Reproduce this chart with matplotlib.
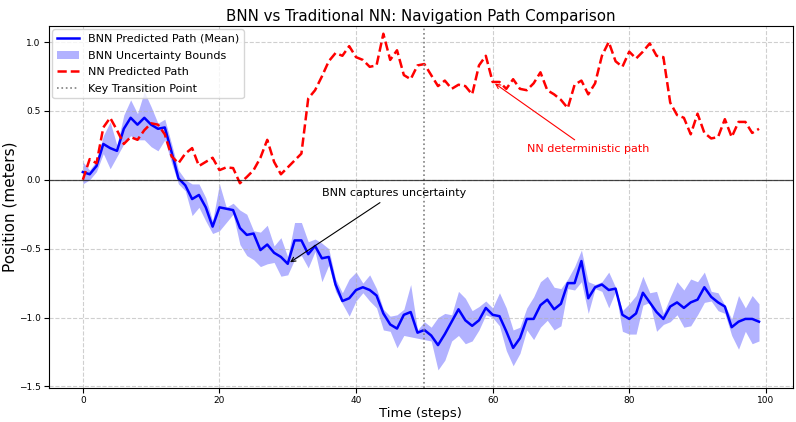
import numpy as np
import matplotlib
matplotlib.use('Agg')
import matplotlib.pyplot as plt

# time axis
steps = np.arange(100)

# BNN mean path
bnn_mean = [0.056, 0.04, 0.10, 0.26, 0.23, 0.21, 0.37, 0.45, 0.40, 0.45,
            0.40, 0.37, 0.38, 0.20, 0.01, -0.04, -0.14, -0.11, -0.20, -0.34,
            -0.20, -0.21, -0.22, -0.35, -0.40, -0.39, -0.51, -0.47, -0.53, -0.56,
            -0.61, -0.44, -0.44, -0.54, -0.48, -0.57, -0.56, -0.76, -0.88, -0.86,
            -0.80, -0.78, -0.80, -0.84, -0.97, -1.05, -1.08, -0.98, -0.96, -1.11,
            -1.09, -1.13, -1.20, -1.12, -1.03, -0.94, -1.02, -1.06, -1.02, -0.93,
            -0.98, -0.99, -1.10, -1.22, -1.15, -1.01, -1.01, -0.91, -0.87, -0.94,
            -0.90, -0.75, -0.75, -0.59, -0.86, -0.78, -0.76, -0.80, -0.79, -0.98,
            -1.01, -0.97, -0.82, -0.89, -0.96, -1.01, -0.92, -0.89, -0.93, -0.89,
            -0.87, -0.78, -0.85, -0.89, -0.92, -1.07, -1.03, -1.01, -1.01, -1.03]

# BNN uncertainty bounds
bnn_upper = [0.13, 0.07, 0.14, 0.32, 0.42, 0.25, 0.47, 0.58, 0.48, 0.64,
             0.53, 0.41, 0.44, 0.26, 0.07, 0.00, -0.03, -0.03, -0.13, -0.30,
             -0.03, -0.20, -0.17, -0.22, -0.25, -0.37, -0.38, -0.33, -0.48, -0.42,
             -0.56, -0.31, -0.31, -0.45, -0.43, -0.46, -0.50, -0.72, -0.82, -0.72,
             -0.67, -0.75, -0.69, -0.79, -0.94, -0.99, -0.98, -0.94, -0.76, -1.09,
             -1.03, -1.07, -1.00, -0.97, -0.98, -0.81, -0.86, -0.95, -0.92, -0.88,
             -0.93, -0.82, -0.93, -1.09, -1.07, -0.93, -0.85, -0.74, -0.70, -0.78,
             -0.79, -0.72, -0.63, -0.51, -0.74, -0.76, -0.74, -0.67, -0.78, -0.95,
             -0.90, -0.84, -0.70, -0.82, -0.81, -0.97, -0.85, -0.74, -0.80, -0.72,
             -0.74, -0.67, -0.81, -0.82, -0.91, -1.01, -0.84, -0.93, -0.84, -0.90]
bnn_lower = [-0.03, 0.00, 0.06, 0.19, 0.08, 0.17, 0.26, 0.32, 0.29, 0.29,
             0.24, 0.21, 0.29, 0.12, -0.03, -0.08, -0.26, -0.20, -0.30, -0.39,
             -0.37, -0.31, -0.25, -0.47, -0.55, -0.58, -0.63, -0.61, -0.60, -0.70,
             -0.69, -0.58, -0.55, -0.64, -0.52, -0.74, -0.62, -0.81, -0.90, -0.99,
             -0.88, -0.82, -0.88, -0.93, -1.09, -1.10, -1.22, -1.13, -1.14, -1.15,
             -1.16, -1.17, -1.38, -1.31, -1.17, -1.13, -1.19, -1.17, -1.09, -0.98,
             -1.00, -1.06, -1.24, -1.35, -1.26, -1.09, -1.16, -1.07, -1.02, -1.09,
             -1.06, -0.79, -0.80, -0.74, -0.97, -0.79, -0.81, -0.93, -0.81, -1.10,
             -1.12, -1.12, -0.91, -0.89, -1.10, -1.05, -1.03, -0.98, -1.07, -1.06,
             -0.98, -0.89, -0.88, -0.95, -0.97, -1.13, -1.23, -1.10, -1.19, -1.17]

# traditional NN path
nn_path = [0.00, 0.15, 0.12, 0.38, 0.45, 0.36, 0.26, 0.31, 0.29, 0.36,
           0.41, 0.40, 0.33, 0.17, 0.12, 0.19, 0.23, 0.10, 0.13, 0.16,
           0.07, 0.09, 0.085, -0.025, 0.02, 0.07, 0.16, 0.29, 0.13, 0.04,
           0.09, 0.14, 0.19, 0.59, 0.65, 0.75, 0.86, 0.92, 0.90, 0.97,
           0.89, 0.87, 0.82, 0.83, 1.06, 0.87, 0.94, 0.76, 0.73, 0.83,
           0.84, 0.76, 0.68, 0.72, 0.66, 0.69, 0.68, 0.62, 0.83, 0.90,
           0.71, 0.71, 0.66, 0.73, 0.66, 0.65, 0.70, 0.78, 0.65, 0.62,
           0.58, 0.52, 0.69, 0.72, 0.62, 0.70, 0.90, 1.00, 0.86, 0.82,
           0.93, 0.88, 0.93, 0.99, 0.90, 0.89, 0.56, 0.47, 0.45, 0.33,
           0.48, 0.34, 0.30, 0.31, 0.44, 0.31, 0.42, 0.42, 0.34, 0.37]

transition_step = 50

fig = plt.figure(figsize=(7.96, 4.22), dpi=100)
ax = fig.add_axes([0.0616, 0.081, 0.9344, 0.857])

ax.plot(steps, bnn_mean, color='blue', linewidth=1.8, label='BNN Predicted Path (Mean)')
ax.fill_between(steps, bnn_lower, bnn_upper, color='blue', alpha=0.3, linewidth=0,
                label='BNN Uncertainty Bounds')
ax.plot(steps, nn_path, color='red', linestyle='--', linewidth=1.8, label='NN Predicted Path')
ax.axvline(transition_step, color='gray', linestyle=':', linewidth=1.2, label='Key Transition Point')
ax.axhline(0, color='black', linewidth=0.9, alpha=0.7)

# annotations
ax.annotate('BNN captures uncertainty', xy=(30, bnn_mean[30]), xytext=(35, -0.12),
            fontsize=8, arrowprops=dict(arrowstyle='->', color='black', lw=0.8))
ax.annotate('NN deterministic path', xy=(60, nn_path[60]), xytext=(65, 0.2),
            fontsize=8, color='red', arrowprops=dict(arrowstyle='->', color='red', lw=0.8))

ax.set_title('BNN vs Traditional NN: Navigation Path Comparison', fontsize=10.8, pad=4)
ax.set_xlabel('Time (steps)', fontsize=9.5, labelpad=1)
ax.set_ylabel('Position (meters)', fontsize=11, labelpad=1)
ax.tick_params(labelsize=6.5, pad=2.5)
ax.set_xlim(-4.95, 103.95)
ax.set_ylim(-1.51, 1.115)
ax.grid(True, linestyle='--', alpha=0.6)
ax.legend(loc='upper left', fontsize=8, labelspacing=0.6, borderaxespad=0.3)

fig.savefig('out.png', dpi=100)
